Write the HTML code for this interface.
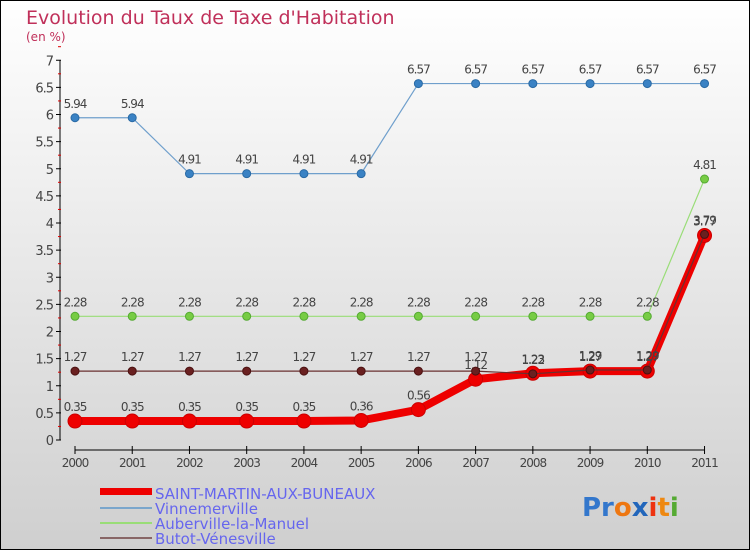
<!DOCTYPE html>
<html><head><meta charset="utf-8">
<style>
body{margin:0;}
#wrap{width:750px;height:550px;position:relative;overflow:hidden;}
svg{display:block;font-family:"DejaVu Sans","Liberation Sans",sans-serif;}
</style></head>
<body>
<div id="wrap">
<svg id="chart" width="750" height="550" viewBox="0 0 750 550">
<defs>
<linearGradient id="bg" x1="0" y1="0" x2="0" y2="1">
<stop offset="0" stop-color="#ffffff"/>
<stop offset="1" stop-color="#cfcfcf"/>
</linearGradient>
</defs>
<rect x="0.5" y="0.5" width="749" height="549" fill="url(#bg)" stroke="#000"/>
<text x="26" y="24" font-size="19" fill="#c0305a">Evolution du Taux de Taxe d'Habitation</text>
<text x="26" y="41" font-size="12" fill="#c0305a">(en %)</text>
<g id="axes"></g>
<g id="series"></g>
<g id="legend">
<rect x="100" y="488" width="52" height="7" fill="#ee0000"/>
<text x="155" y="499" font-size="15" fill="#6666ee">SAINT-MARTIN-AUX-BUNEAUX</text>
<rect x="100" y="507" width="52" height="2" fill="#7aa6cc"/>
<text x="155" y="514" font-size="15" fill="#6666ee">Vinnemerville</text>
<rect x="100" y="522" width="52" height="2" fill="#99dd77"/>
<text x="155" y="529" font-size="15" fill="#6666ee">Auberville-la-Manuel</text>
<rect x="100" y="537" width="52" height="2" fill="#886666"/>
<text x="155" y="544" font-size="15" fill="#6666ee">Butot-Vénesville</text>
</g>
<text x="582" y="516" font-size="26" font-weight="bold"><tspan fill="#3377cc">Pr</tspan><tspan fill="#ee7711">o</tspan><tspan fill="#2266bb">x</tspan><tspan fill="#ee3311">i</tspan><tspan fill="#ee8811">t</tspan><tspan fill="#55aa33">i</tspan></text>
</svg>
</div>
<script>
const years = [2000,2001,2002,2003,2004,2005,2006,2007,2008,2009,2010,2011];
const yTicks = [0,0.5,1,1.5,2,2.5,3,3.5,4,4.5,5,5.5,6,6.5,7];
const stMartin = [0.35,0.35,0.35,0.35,0.35,0.36,0.56,1.12,1.23,1.27,1.27,3.77];
const vinnemerville = [5.94,5.94,4.91,4.91,4.91,4.91,6.57,6.57,6.57,6.57,6.57,6.57];
const auberville = [2.28,2.28,2.28,2.28,2.28,2.28,2.28,2.28,2.28,2.28,2.28,4.81];
const butot = [1.27,1.27,1.27,1.27,1.27,1.27,1.27,1.27,1.22,1.29,1.29,3.79];

const NS = "http://www.w3.org/2000/svg";
function xPos(i){ return 75 + i * 57.23; }
function yPos(v){ return 440 - v * 54.25; }
function mk(tag, attrs, parent){
  const e = document.createElementNS(NS, tag);
  for (const k in attrs) e.setAttribute(k, attrs[k]);
  parent.appendChild(e);
  return e;
}
function fmt(v){ return String(v).replace(/^(\d)\.(\d)$/, "$1.$2"); }

const axes = document.getElementById('axes');
const yAxis = mk('line', {x1:60, y1:yPos(0), x2:60, y2:yPos(7), stroke:'#000', 'stroke-width':1}, axes);


yTicks.forEach(function(t){
  const tk = mk('line', {x1:56, y1:yPos(t), x2:61, y2:yPos(t), stroke:'#000'}, axes);
  
  
  const mt = mk('line', {x1:58, y1:yPos(t+0.25), x2:61, y2:yPos(t+0.25), stroke:'#dd0000'}, axes);
  
  
  const lb = mk('text', {x:53, y:yPos(t)+5, 'font-size':13, fill:'#444', 'text-anchor':'end', 'letter-spacing':'-1'}, axes);
  lb.textContent = String(t);
  
  
});
const xAxis = mk('line', {x1:xPos(0), y1:450, x2:xPos(11), y2:450, stroke:'#000'}, axes);


years.forEach(function(yr, i){
  const tk = mk('line', {x1:xPos(i), y1:446, x2:xPos(i), y2:454, stroke:'#000'}, axes);
  
  
  const lb = mk('text', {x:xPos(i), y:467, 'font-size':12, fill:'#444', 'text-anchor':'middle', 'letter-spacing':'-1'}, axes);
  lb.textContent = String(yr);
  
  
});

const seriesG = document.getElementById('series');
function drawSeries(vals, name, color, width, dotR, dotFill, dotStroke){
  const g = mk('g', {}, seriesG);
  
  
  const pts = vals.map(function(v,i){ return xPos(i) + ',' + yPos(v); }).join(' ');
  const pl = mk('polyline', {points:pts, fill:'none', stroke:color, 'stroke-width':width, 'stroke-linejoin':'round'}, g);
  
  
  vals.forEach(function(v,i){
    const c = mk('circle', {cx:xPos(i), cy:yPos(v), r:dotR, fill:dotFill, stroke:dotStroke, 'stroke-width':1}, g);
    
    
    const t = mk('text', {x:xPos(i), y:yPos(v)-10, 'font-size':12, fill:'#444', 'text-anchor':'middle', 'letter-spacing':'-1'}, g);
    t.textContent = fmt(v);
    
    
  });
}
drawSeries(vinnemerville, 'vinnemerville', '#6f9fcc', 1.2, 4, '#3a82c4', '#2a6aa4');
drawSeries(auberville, 'auberville', '#99dd77', 1.2, 4, '#77cc44', '#55aa33');
drawSeries(stMartin, 'saint-martin', '#ee0000', 8, 7, '#ee0000', '#cc0000');
drawSeries(butot, 'butot', '#6a3030', 1.2, 4, '#6a2020', '#4a1010');
</script>
</body></html>
